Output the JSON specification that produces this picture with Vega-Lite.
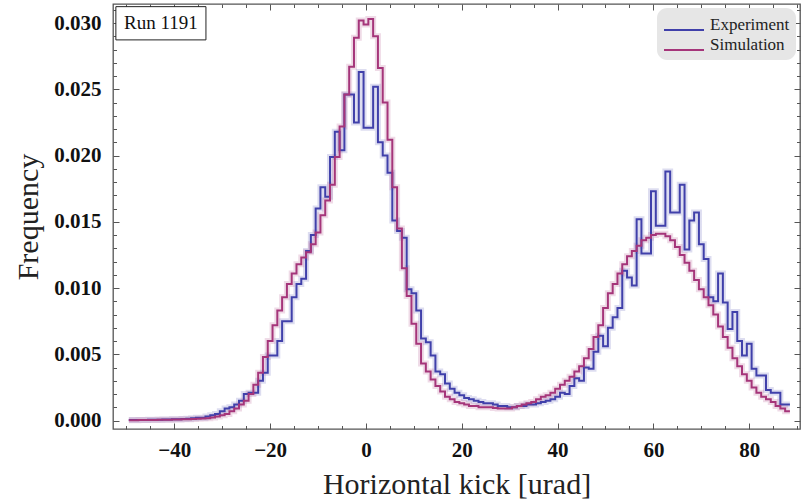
{
  "$schema": "https://vega.github.io/schema/vega-lite/v6.json",
  "width": 687,
  "height": 425,
  "padding": {"left": 13, "top": 3, "right": 5, "bottom": 5},
  "background": "white",
  "config": {
    "view": {"stroke": "#555555", "strokeWidth": 1.3},
    "axis": {
      "grid": false,
      "domain": false,
      "tickColor": "#555555",
      "tickWidth": 1,
      "labelFont": "Liberation Serif",
      "labelFontWeight": "bold",
      "labelFontSize": 21,
      "labelColor": "#111111",
      "titleFont": "Liberation Serif",
      "titleFontWeight": "normal",
      "titleFontSize": 30,
      "titleColor": "#222222"
    },
    "legend": {
      "labelFont": "Liberation Serif",
      "labelFontSize": 17,
      "labelColor": "#222222"
    }
  },
  "data": {
    "values": [
      {"x": -49.5, "Experiment": 0.00003, "Simulation": 0.00002},
      {"x": -48.5, "Experiment": 0.00003, "Simulation": 0.00002},
      {"x": -47.5, "Experiment": 0.00004, "Simulation": 0.00003},
      {"x": -46.5, "Experiment": 0.00004, "Simulation": 0.00003},
      {"x": -45.5, "Experiment": 0.00005, "Simulation": 0.00004},
      {"x": -44.5, "Experiment": 0.00005, "Simulation": 0.00004},
      {"x": -43.5, "Experiment": 0.00006, "Simulation": 0.00005},
      {"x": -42.5, "Experiment": 0.00007, "Simulation": 0.00005},
      {"x": -41.5, "Experiment": 0.00008, "Simulation": 0.00006},
      {"x": -40.5, "Experiment": 0.00009, "Simulation": 0.00007},
      {"x": -39.5, "Experiment": 0.0001, "Simulation": 0.00008},
      {"x": -38.5, "Experiment": 0.00012, "Simulation": 0.00009},
      {"x": -37.5, "Experiment": 0.00014, "Simulation": 0.0001},
      {"x": -36.5, "Experiment": 0.00017, "Simulation": 0.00011},
      {"x": -35.5, "Experiment": 0.0002, "Simulation": 0.00013},
      {"x": -34.5, "Experiment": 0.0002, "Simulation": 0.00015},
      {"x": -33.5, "Experiment": 0.0003, "Simulation": 0.00018},
      {"x": -32.5, "Experiment": 0.0004, "Simulation": 0.00022},
      {"x": -31.5, "Experiment": 0.0005, "Simulation": 0.0003},
      {"x": -30.5, "Experiment": 0.0007, "Simulation": 0.0004},
      {"x": -29.5, "Experiment": 0.0009, "Simulation": 0.0005},
      {"x": -28.5, "Experiment": 0.001, "Simulation": 0.0007},
      {"x": -27.5, "Experiment": 0.0012, "Simulation": 0.0009},
      {"x": -26.5, "Experiment": 0.0015, "Simulation": 0.0012},
      {"x": -25.5, "Experiment": 0.002, "Simulation": 0.0015},
      {"x": -24.5, "Experiment": 0.0021, "Simulation": 0.002},
      {"x": -23.5, "Experiment": 0.0021, "Simulation": 0.0027},
      {"x": -22.5, "Experiment": 0.003, "Simulation": 0.0036},
      {"x": -21.5, "Experiment": 0.0036, "Simulation": 0.0048},
      {"x": -20.5, "Experiment": 0.0049, "Simulation": 0.006},
      {"x": -19.5, "Experiment": 0.0049, "Simulation": 0.0072},
      {"x": -18.5, "Experiment": 0.006, "Simulation": 0.0083},
      {"x": -17.5, "Experiment": 0.0075, "Simulation": 0.0093},
      {"x": -16.5, "Experiment": 0.0075, "Simulation": 0.0103},
      {"x": -15.5, "Experiment": 0.0093, "Simulation": 0.0111},
      {"x": -14.5, "Experiment": 0.0103, "Simulation": 0.0118},
      {"x": -13.5, "Experiment": 0.0107, "Simulation": 0.0123},
      {"x": -12.5, "Experiment": 0.0128, "Simulation": 0.0127},
      {"x": -11.5, "Experiment": 0.014, "Simulation": 0.0133},
      {"x": -10.5, "Experiment": 0.016, "Simulation": 0.0142},
      {"x": -9.5, "Experiment": 0.0176, "Simulation": 0.0155},
      {"x": -8.5, "Experiment": 0.0169, "Simulation": 0.0166},
      {"x": -7.5, "Experiment": 0.0199, "Simulation": 0.0178},
      {"x": -6.5, "Experiment": 0.0218, "Simulation": 0.0199},
      {"x": -5.5, "Experiment": 0.0204, "Simulation": 0.0222},
      {"x": -4.5, "Experiment": 0.0246, "Simulation": 0.0246},
      {"x": -3.5, "Experiment": 0.0246, "Simulation": 0.0267},
      {"x": -2.5, "Experiment": 0.0225, "Simulation": 0.0289},
      {"x": -1.5, "Experiment": 0.0263, "Simulation": 0.0302},
      {"x": -0.5, "Experiment": 0.0221, "Simulation": 0.0299},
      {"x": 0.5, "Experiment": 0.0221, "Simulation": 0.0303},
      {"x": 1.5, "Experiment": 0.0252, "Simulation": 0.029},
      {"x": 2.5, "Experiment": 0.021, "Simulation": 0.0266},
      {"x": 3.5, "Experiment": 0.02, "Simulation": 0.024},
      {"x": 4.5, "Experiment": 0.0187, "Simulation": 0.0212},
      {"x": 5.5, "Experiment": 0.0151, "Simulation": 0.0176},
      {"x": 6.5, "Experiment": 0.0143, "Simulation": 0.0145},
      {"x": 7.5, "Experiment": 0.0138, "Simulation": 0.0115},
      {"x": 8.5, "Experiment": 0.0099, "Simulation": 0.0094},
      {"x": 9.5, "Experiment": 0.0096, "Simulation": 0.0073},
      {"x": 10.5, "Experiment": 0.0083, "Simulation": 0.0058},
      {"x": 11.5, "Experiment": 0.0062, "Simulation": 0.0043},
      {"x": 12.5, "Experiment": 0.0059, "Simulation": 0.0037},
      {"x": 13.5, "Experiment": 0.0049, "Simulation": 0.0031},
      {"x": 14.5, "Experiment": 0.0037, "Simulation": 0.0026},
      {"x": 15.5, "Experiment": 0.0035, "Simulation": 0.0022},
      {"x": 16.5, "Experiment": 0.0028, "Simulation": 0.0018},
      {"x": 17.5, "Experiment": 0.0024, "Simulation": 0.0016},
      {"x": 18.5, "Experiment": 0.0021, "Simulation": 0.0014},
      {"x": 19.5, "Experiment": 0.0019, "Simulation": 0.0013},
      {"x": 20.5, "Experiment": 0.0017, "Simulation": 0.0012},
      {"x": 21.5, "Experiment": 0.0016, "Simulation": 0.0011},
      {"x": 22.5, "Experiment": 0.0015, "Simulation": 0.0011},
      {"x": 23.5, "Experiment": 0.0014, "Simulation": 0.001},
      {"x": 24.5, "Experiment": 0.0013, "Simulation": 0.001},
      {"x": 25.5, "Experiment": 0.0013, "Simulation": 0.001},
      {"x": 26.5, "Experiment": 0.0012, "Simulation": 0.00095},
      {"x": 27.5, "Experiment": 0.0011, "Simulation": 0.0009},
      {"x": 28.5, "Experiment": 0.0011, "Simulation": 0.0009},
      {"x": 29.5, "Experiment": 0.001, "Simulation": 0.0009},
      {"x": 30.5, "Experiment": 0.001, "Simulation": 0.001},
      {"x": 31.5, "Experiment": 0.0011, "Simulation": 0.0011},
      {"x": 32.5, "Experiment": 0.0011, "Simulation": 0.0012},
      {"x": 33.5, "Experiment": 0.0012, "Simulation": 0.0013},
      {"x": 34.5, "Experiment": 0.0012, "Simulation": 0.0014},
      {"x": 35.5, "Experiment": 0.0013, "Simulation": 0.0016},
      {"x": 36.5, "Experiment": 0.0014, "Simulation": 0.0018},
      {"x": 37.5, "Experiment": 0.0015, "Simulation": 0.0019},
      {"x": 38.5, "Experiment": 0.0016, "Simulation": 0.0021},
      {"x": 39.5, "Experiment": 0.0018, "Simulation": 0.0024},
      {"x": 40.5, "Experiment": 0.0021, "Simulation": 0.0027},
      {"x": 41.5, "Experiment": 0.002, "Simulation": 0.003},
      {"x": 42.5, "Experiment": 0.0026, "Simulation": 0.0033},
      {"x": 43.5, "Experiment": 0.0032, "Simulation": 0.0037},
      {"x": 44.5, "Experiment": 0.003, "Simulation": 0.0041},
      {"x": 45.5, "Experiment": 0.004, "Simulation": 0.0047},
      {"x": 46.5, "Experiment": 0.0039, "Simulation": 0.0054},
      {"x": 47.5, "Experiment": 0.0052, "Simulation": 0.0063},
      {"x": 48.5, "Experiment": 0.0064, "Simulation": 0.0072},
      {"x": 49.5, "Experiment": 0.0056, "Simulation": 0.0085},
      {"x": 50.5, "Experiment": 0.007, "Simulation": 0.0096},
      {"x": 51.5, "Experiment": 0.0078, "Simulation": 0.0103},
      {"x": 52.5, "Experiment": 0.0085, "Simulation": 0.0111},
      {"x": 53.5, "Experiment": 0.0113, "Simulation": 0.0118},
      {"x": 54.5, "Experiment": 0.0108, "Simulation": 0.0124},
      {"x": 55.5, "Experiment": 0.0102, "Simulation": 0.0128},
      {"x": 56.5, "Experiment": 0.0152, "Simulation": 0.0132},
      {"x": 57.5, "Experiment": 0.0126, "Simulation": 0.0136},
      {"x": 58.5, "Experiment": 0.0126, "Simulation": 0.0138},
      {"x": 59.5, "Experiment": 0.0173, "Simulation": 0.014},
      {"x": 60.5, "Experiment": 0.0147, "Simulation": 0.0141},
      {"x": 61.5, "Experiment": 0.0147, "Simulation": 0.0141},
      {"x": 62.5, "Experiment": 0.0188, "Simulation": 0.0139},
      {"x": 63.5, "Experiment": 0.0157, "Simulation": 0.0136},
      {"x": 64.5, "Experiment": 0.0157, "Simulation": 0.0131},
      {"x": 65.5, "Experiment": 0.0178, "Simulation": 0.0125},
      {"x": 66.5, "Experiment": 0.0129, "Simulation": 0.0119},
      {"x": 67.5, "Experiment": 0.0151, "Simulation": 0.0113},
      {"x": 68.5, "Experiment": 0.0157, "Simulation": 0.0106},
      {"x": 69.5, "Experiment": 0.0133, "Simulation": 0.0099},
      {"x": 70.5, "Experiment": 0.0122, "Simulation": 0.0093},
      {"x": 71.5, "Experiment": 0.0093, "Simulation": 0.0087},
      {"x": 72.5, "Experiment": 0.009, "Simulation": 0.008},
      {"x": 73.5, "Experiment": 0.0111, "Simulation": 0.0071},
      {"x": 74.5, "Experiment": 0.0089, "Simulation": 0.0063},
      {"x": 75.5, "Experiment": 0.0069, "Simulation": 0.0055},
      {"x": 76.5, "Experiment": 0.0082, "Simulation": 0.0047},
      {"x": 77.5, "Experiment": 0.006, "Simulation": 0.0041},
      {"x": 78.5, "Experiment": 0.0049, "Simulation": 0.0035},
      {"x": 79.5, "Experiment": 0.0058, "Simulation": 0.003},
      {"x": 80.5, "Experiment": 0.0039, "Simulation": 0.0025},
      {"x": 81.5, "Experiment": 0.0034, "Simulation": 0.0021},
      {"x": 82.5, "Experiment": 0.0034, "Simulation": 0.0018},
      {"x": 83.5, "Experiment": 0.0023, "Simulation": 0.0016},
      {"x": 84.5, "Experiment": 0.0021, "Simulation": 0.0014},
      {"x": 85.5, "Experiment": 0.0021, "Simulation": 0.0011},
      {"x": 86.5, "Experiment": 0.0012, "Simulation": 0.0009},
      {"x": 87.5, "Experiment": 0.0012, "Simulation": 0.0007},
      {"x": 88.5, "Experiment": 0.0012, "Simulation": 0.0007}
    ]
  },
  "transform": [{"fold": ["Experiment", "Simulation"], "as": ["series", "value"]}],
  "resolve": {"axis": {"x": "independent", "y": "independent"}},
  "layer": [
    {
      "mark": {"type": "line", "interpolate": "step-after", "strokeWidth": 6, "opacity": 0.18},
      "encoding": {
        "x": {"field": "x", "type": "quantitative", "scale": {"domain": [-52.8, 90.6], "nice": false, "zero": false}, "axis": null},
        "y": {"field": "value", "type": "quantitative", "scale": {"domain": [-0.00064, 0.03144], "nice": false, "zero": false}, "axis": null},
        "color": {"field": "series", "type": "nominal", "scale": {"domain": ["Experiment", "Simulation"], "range": ["#4040aa", "#a5357a"]},
          "legend": {"title": null, "orient": "top-right", "offset": 4, "fillColor": "#e6e6e6", "cornerRadius": 10, "padding": 6, "symbolType": "M-1,0.5L3,0.5", "symbolSize": 400, "symbolStrokeWidth": 2, "symbolOpacity": 1, "labelOffset": 25, "rowPadding": -1}}
      }
    },
    {
      "mark": {"type": "line", "interpolate": "step-after", "strokeWidth": 2},
      "encoding": {
        "x": {"field": "x", "type": "quantitative", "scale": {"domain": [-52.8, 90.6], "nice": false, "zero": false},
          "axis": {"orient": "bottom", "values": [-40, -20, 0, 20, 40, 60, 80], "tickSize": -6, "labelPadding": 16, "title": "Horizontal kick [urad]", "titlePadding": 9}},
        "y": {"field": "value", "type": "quantitative", "scale": {"domain": [-0.00064, 0.03144], "nice": false, "zero": false},
          "axis": {"orient": "left", "values": [0, 0.005, 0.01, 0.015, 0.02, 0.025, 0.03], "format": ".3f", "tickSize": -6, "labelPadding": 18, "title": "Frequency", "titlePadding": 10}},
        "color": {"field": "series", "type": "nominal", "scale": {"domain": ["Experiment", "Simulation"], "range": ["#4040aa", "#a5357a"]},
          "legend": {"title": null, "orient": "top-right", "offset": 4, "fillColor": "#e6e6e6", "cornerRadius": 10, "padding": 6, "symbolType": "M-1,0.5L3,0.5", "symbolSize": 400, "symbolStrokeWidth": 2, "symbolOpacity": 1, "labelOffset": 25, "rowPadding": -1}}
      }
    },
    {
      "mark": {"type": "line", "opacity": 0},
      "encoding": {
        "x": {"field": "x", "type": "quantitative", "scale": {"domain": [-52.8, 90.6], "nice": false, "zero": false},
          "axis": {"orient": "bottom", "values": [-50, -45, -35, -30, -25, -15, -10, -5, 5, 10, 15, 25, 30, 35, 45, 50, 55, 65, 70, 75, 85, 90], "tickSize": -3.5, "labels": false, "title": null}},
        "y": {"field": "value", "type": "quantitative", "scale": {"domain": [-0.00064, 0.03144], "nice": false, "zero": false},
          "axis": {"orient": "left", "values": [0.001, 0.002, 0.003, 0.004, 0.006, 0.007, 0.008, 0.009, 0.011, 0.012, 0.013, 0.014, 0.016, 0.017, 0.018, 0.019, 0.021, 0.022, 0.023, 0.024, 0.026, 0.027, 0.028, 0.029, 0.031], "tickSize": -3.5, "labels": false, "title": null}}
      }
    },
    {
      "mark": {"type": "line", "opacity": 0},
      "encoding": {
        "x": {"field": "x", "type": "quantitative", "scale": {"domain": [-52.8, 90.6], "nice": false, "zero": false},
          "axis": {"orient": "top", "values": [-40, -20, 0, 20, 40, 60, 80], "tickSize": -6, "labels": false, "title": null}},
        "y": {"field": "value", "type": "quantitative", "scale": {"domain": [-0.00064, 0.03144], "nice": false, "zero": false},
          "axis": {"orient": "right", "values": [0, 0.005, 0.01, 0.015, 0.02, 0.025, 0.03], "tickSize": -6, "labels": false, "title": null}}
      }
    },
    {
      "mark": {"type": "line", "opacity": 0},
      "encoding": {
        "x": {"field": "x", "type": "quantitative", "scale": {"domain": [-52.8, 90.6], "nice": false, "zero": false},
          "axis": {"orient": "top", "values": [-50, -45, -35, -30, -25, -15, -10, -5, 5, 10, 15, 25, 30, 35, 45, 50, 55, 65, 70, 75, 85, 90], "tickSize": -3.5, "labels": false, "title": null}},
        "y": {"field": "value", "type": "quantitative", "scale": {"domain": [-0.00064, 0.03144], "nice": false, "zero": false},
          "axis": {"orient": "right", "values": [0.001, 0.002, 0.003, 0.004, 0.006, 0.007, 0.008, 0.009, 0.011, 0.012, 0.013, 0.014, 0.016, 0.017, 0.018, 0.019, 0.021, 0.022, 0.023, 0.024, 0.026, 0.027, 0.028, 0.029, 0.031], "tickSize": -3.5, "labels": false, "title": null}}
      }
    },
    {
      "data": {"values": [{"x1": -52.2, "x2": -33.4, "y1": 0.03124, "y2": 0.02873}]},
      "mark": {"type": "rect", "fill": "white", "stroke": "#222222", "strokeWidth": 1},
      "encoding": {
        "x": {"field": "x1", "type": "quantitative", "scale": {"domain": [-52.8, 90.6], "nice": false, "zero": false}, "axis": null},
        "x2": {"field": "x2"},
        "y": {"field": "y1", "type": "quantitative", "scale": {"domain": [-0.00064, 0.03144], "nice": false, "zero": false}, "axis": null},
        "y2": {"field": "y2"}
      }
    },
    {
      "data": {"values": [{"x": -42.8, "y": 0.02998, "label": "Run 1191"}]},
      "mark": {"type": "text", "font": "Liberation Serif", "fontSize": 19, "color": "#111111", "align": "center", "baseline": "middle"},
      "encoding": {
        "x": {"field": "x", "type": "quantitative", "scale": {"domain": [-52.8, 90.6], "nice": false, "zero": false}, "axis": null},
        "y": {"field": "y", "type": "quantitative", "scale": {"domain": [-0.00064, 0.03144], "nice": false, "zero": false}, "axis": null},
        "text": {"field": "label"}
      }
    }
  ]
}
